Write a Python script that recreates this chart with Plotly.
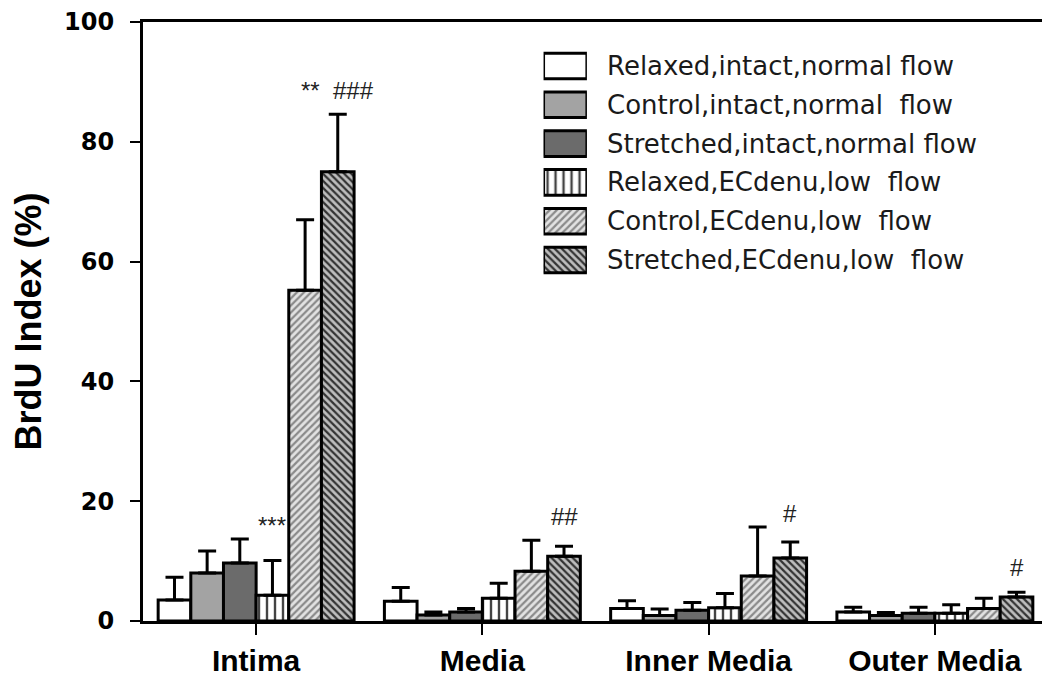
import plotly.graph_objects as go

categories = ["Intima", "Media", "Inner Media", "Outer Media"]
series_names = [
    "Relaxed,intact,normal flow",
    "Control,intact,normal\u00a0 flow",
    "Stretched,intact,normal flow",
    "Relaxed,ECdenu,low\u00a0 flow",
    "Control,ECdenu,low\u00a0 flow",
    "Stretched,ECdenu,low\u00a0 flow",
]
relaxed_intact = [3.5, 3.3, 2.1, 1.5]
relaxed_intact_err = [3.8, 2.3, 1.3, 0.8]
control_intact = [8.0, 1.0, 0.9, 0.9]
control_intact_err = [3.7, 0.5, 1.1, 0.5]
stretched_intact = [9.7, 1.5, 1.8, 1.3]
stretched_intact_err = [4.0, 0.6, 1.3, 1.0]
relaxed_ecdenu = [4.3, 3.8, 2.2, 1.3]
relaxed_ecdenu_err = [5.8, 2.5, 2.4, 1.4]
control_ecdenu = [55.2, 8.3, 7.5, 2.1]
control_ecdenu_err = [11.8, 5.2, 8.2, 1.7]
stretched_ecdenu = [75.0, 10.8, 10.5, 4.0]
stretched_ecdenu_err = [9.6, 1.7, 2.7, 0.8]

values = [relaxed_intact, control_intact, stretched_intact,
          relaxed_ecdenu, control_ecdenu, stretched_ecdenu]
errors = [relaxed_intact_err, control_intact_err, stretched_intact_err,
          relaxed_ecdenu_err, control_ecdenu_err, stretched_ecdenu_err]

# significance marks: (category, series index, text, y value)
sig_cats = ["Intima", "Intima", "Media", "Inner Media", "Outer Media"]
sig_series = [3, 5, 5, 5, 5]
sig_text = ["***", "**\u00a0\u00a0###", "##", "#", "#"]
sig_y = [16.0, 88.5, 17.4, 18.0, 9.0]

y_ticks = [0, 20, 40, 60, 80, 100]

# styles
colors = ["#ffffff", "#a3a3a3", "#6b6b6b", "#ffffff", "#e2e2e2", "#bdbdbd"]
pshapes = ["", "", "", "|", "/", "\\"]
pbg = ["#ffffff", "#a3a3a3", "#6b6b6b", "#ffffff", "#e2e2e2", "#bdbdbd"]
pfg = ["#000000", "#000000", "#000000", "#444444", "#8a8a8a", "#333333"]
psize = [8, 8, 8, 8, 5, 5]
psol = [0.3, 0.3, 0.3, 0.3, 0.45, 0.45]

BARGAP = 0.134
fig = go.Figure()
for i, name in enumerate(series_names):
    fig.add_trace(go.Bar(
        x=categories, y=values[i], name=name, showlegend=False,
        marker=dict(color=colors[i], line=dict(color="black", width=3),
                    pattern=dict(shape=pshapes[i], bgcolor=pbg[i], fgcolor=pfg[i],
                                 size=psize[i], solidity=psol[i], fillmode="replace")),
        error_y=dict(type="data", symmetric=False, array=errors[i],
                     arrayminus=[0] * len(categories), color="black",
                     thickness=3, width=9),
    ))

# legend swatches drawn on an inset axis (one trace per series, same slot)
for i, name in enumerate(series_names):
    fig.add_trace(go.Bar(
        x=[1], y=[name], orientation="h", offsetgroup="legend",
        xaxis="x2", yaxis="y2", width=0.66, showlegend=False, hoverinfo="skip",
        marker=dict(color=colors[i], line=dict(color="black", width=3),
                    pattern=dict(shape=pshapes[i], bgcolor=pbg[i], fgcolor=pfg[i],
                                 size=psize[i], solidity=psol[i], fillmode="replace")),
    ))

annotations = []
for nm in series_names:
    annotations.append(dict(x=1, y=nm, xref="x2", yref="y2", text=nm,
                            showarrow=False, xanchor="left", xshift=18,
                            font=dict(family="DejaVu Sans", size=26, color="#1a1a1a")))

slot = (1 - BARGAP) / len(series_names)
for c, s, t, yv in zip(sig_cats, sig_series, sig_text, sig_y):
    xpos = categories.index(c) - (1 - BARGAP) / 2 + (s + 0.5) * slot
    annotations.append(dict(x=xpos, y=yv, xref="x", yref="y", text=t,
                            showarrow=False, xanchor="center", yanchor="middle",
                            font=dict(family="Liberation Sans", size=24, color="#222")))

# the page places the figure 8px from the top-left corner
fig.update_layout(
    width=1042, height=676, autosize=False,
    margin=dict(l=135, r=2, t=14, b=63),
    paper_bgcolor="white", plot_bgcolor="white",
    barmode="group", bargap=BARGAP, bargroupgap=0,
    annotations=annotations,
    xaxis=dict(showline=True, linecolor="black", linewidth=3, mirror=True,
               ticks="outside", ticklen=11, tickwidth=2, tickcolor="black",
               showgrid=False, zeroline=False, automargin=False,
               tickfont=dict(family="Liberation Sans", size=30, color="black",
                             weight="bold"),
               ticklabelstandoff=0),
    yaxis=dict(range=[0, 100], tickvals=y_ticks, showline=True, linecolor="black",
               linewidth=3, mirror=True, ticks="outside", ticklen=10, tickwidth=2,
               tickcolor="black", showgrid=False, zeroline=False, automargin=False,
               tickfont=dict(family="DejaVu Sans", size=24, color="black", weight="bold"),
               ticklabelstandoff=11,
               title=dict(text="BrdU Index (%)", standoff=18,
                          font=dict(family="Liberation Sans", size=36, color="black",
                                    weight="bold"))),
    xaxis2=dict(domain=[0.4426, 0.4905], range=[0, 1], visible=False, anchor="y2",
                fixedrange=True),
    yaxis2=dict(domain=[0.5703, 0.959], range=[5.5, -0.5], visible=False, anchor="x2",
                type="category", categoryorder="array", categoryarray=series_names,
                fixedrange=True),
)

fig.write_html("out.html")
